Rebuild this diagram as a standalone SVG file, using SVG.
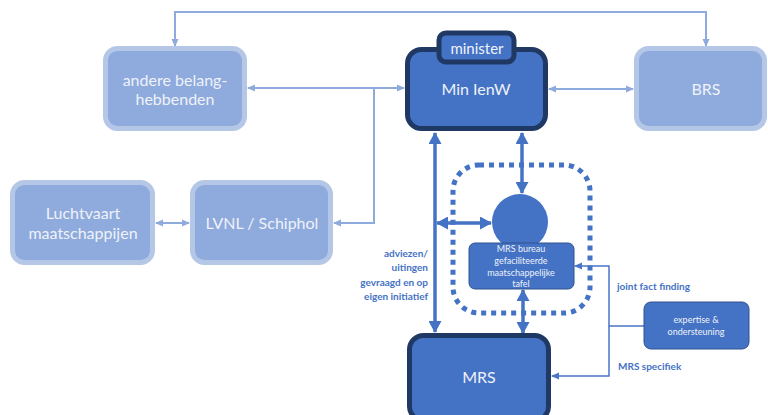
<svg xmlns="http://www.w3.org/2000/svg" width="768" height="415" viewBox="0 0 768 415">
<style>
.lt{fill:#8faadc;stroke:#b4c7e7;stroke-width:5}
.dk{fill:#4472c4;stroke:#203864;stroke-width:5}
.t{font-family:Lato,"Open Sans","Liberation Sans",sans-serif;fill:#eef2fa;text-anchor:middle}
.lbl{font-family:Lato,"Open Sans","Liberation Sans",sans-serif;fill:#4472c4;font-weight:bold;font-size:10px}
.thin{fill:none;stroke:#8faadc;stroke-width:2}
.thick{fill:none;stroke:#4472c4;stroke-width:3.5}
.mid{fill:none;stroke:#4a76c6;stroke-width:1.5}
</style>
<defs>
<marker id="al" markerUnits="userSpaceOnUse" markerWidth="8" markerHeight="8" refX="7" refY="4" orient="auto-start-reverse"><path d="M0,0.5 L8,4 L0,7.5 z" fill="#8faadc"/></marker>
<marker id="ad" markerUnits="userSpaceOnUse" markerWidth="12" markerHeight="13" refX="11" refY="6.5" orient="auto-start-reverse"><path d="M0,0 L12,6.5 L0,13 z" fill="#4472c4"/></marker>
<marker id="am" markerUnits="userSpaceOnUse" markerWidth="8" markerHeight="8" refX="7" refY="4" orient="auto-start-reverse"><path d="M0,0.5 L8,4 L0,7.5 z" fill="#4a76c6"/></marker>
</defs>

<g id="connectors">
<path class="thin" d="M175,46 V12 H706 V46" marker-start="url(#al)" marker-end="url(#al)"/>
<path class="thin" d="M248,88 H404" marker-start="url(#al)" marker-end="url(#al)"/>
<path class="thin" d="M374,88 V223 H334" marker-end="url(#al)"/>
<path class="thin" d="M156,223 H189" marker-start="url(#al)" marker-end="url(#al)"/>
<path class="thin" d="M549,89 H633" marker-start="url(#al)" marker-end="url(#al)"/>
<path class="thick" d="M435,133 V332" marker-start="url(#ad)" marker-end="url(#ad)"/>
<path class="thick" d="M522,133 V193" marker-start="url(#ad)" marker-end="url(#ad)"/>
<path class="thick" d="M437,223 H491" marker-start="url(#ad)" marker-end="url(#ad)"/>
<path class="thick" d="M523,290 V333" marker-start="url(#ad)" marker-end="url(#ad)"/>
<path class="mid" d="M644,326 H609 V266 H575" marker-end="url(#am)"/>
<path class="mid" d="M609,326 V376 H552" marker-end="url(#am)"/>
</g>

<g id="dotted-frame">
<rect x="453" y="165" width="137" height="148" rx="26" fill="none" stroke="#4472c4" stroke-width="5" stroke-dasharray="5 5"/>
</g>

<g id="andere">
<rect class="lt" x="105.5" y="48.5" width="139" height="80" rx="12"/>
<text class="t" x="175" y="86" font-size="16">andere belang-</text>
<text class="t" x="175" y="105" font-size="16">hebbenden</text>
</g>

<g id="luchtvaart">
<rect class="lt" x="12.5" y="182.5" width="140" height="80" rx="12"/>
<text class="t" x="83" y="219" font-size="16">Luchtvaart</text>
<text class="t" x="83" y="239" font-size="16">maatschappijen</text>
</g>

<g id="lvnl">
<rect class="lt" x="192.5" y="182.5" width="138" height="80" rx="12"/>
<text class="t" x="262" y="229" font-size="16">LVNL / Schiphol</text>
</g>

<g id="brs">
<rect class="lt" x="636.5" y="48.5" width="128" height="80" rx="12"/>
<text class="t" x="706" y="95" font-size="16">BRS</text>
</g>

<g id="minienw">
<rect class="dk" x="407.5" y="49.5" width="138" height="79" rx="14"/>
<rect class="dk" x="439" y="33" width="75" height="29" rx="7"/>
<text class="t" x="477" y="54" font-size="15">minister</text>
<text class="t" x="476" y="95" font-size="16">Min IenW</text>
</g>

<g id="mrs-bureau">
<circle cx="520" cy="222" r="28" fill="#4472c4"/>
<rect x="469" y="243" width="105" height="46" rx="6" fill="#4472c4" stroke="#2f528f" stroke-width="1"/>
<text class="t" x="521" y="252" font-size="9">MRS bureau</text>
<text class="t" x="521" y="264" font-size="9">gefaciliteerde</text>
<text class="t" x="521" y="276" font-size="9">maatschappelijke</text>
<text class="t" x="521" y="287" font-size="9">tafel</text>
</g>

<g id="mrs">
<rect class="dk" x="409.5" y="335.5" width="139" height="85" rx="14"/>
<text class="t" x="479" y="383" font-size="16">MRS</text>
</g>

<g id="expertise">
<rect x="644" y="302" width="105" height="47" rx="7" fill="#4472c4" stroke="#2f528f" stroke-width="1"/>
<text class="t" x="696" y="323" font-size="9">expertise &amp;</text>
<text class="t" x="696" y="335" font-size="9">ondersteuning</text>
</g>

<g id="labels">
<text class="lbl" x="428" y="257" text-anchor="end">adviezen/</text>
<text class="lbl" x="428" y="271" text-anchor="end">uitingen</text>
<text class="lbl" x="428" y="286" text-anchor="end">gevraagd en op</text>
<text class="lbl" x="428" y="300" text-anchor="end">eigen initiatief</text>
<text class="lbl" x="617" y="290">joint fact finding</text>
<text class="lbl" x="618" y="370">MRS specifiek</text>
</g>
</svg>
